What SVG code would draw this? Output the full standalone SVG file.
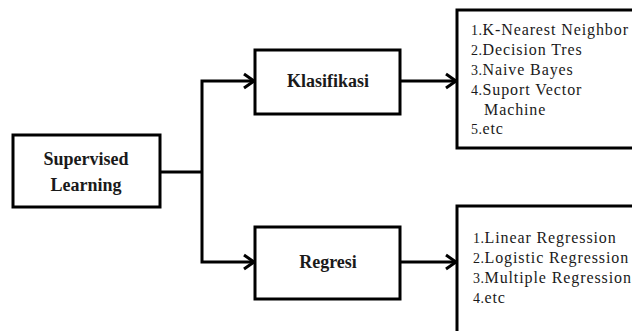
<svg xmlns="http://www.w3.org/2000/svg" width="632" height="331" viewBox="0 0 632 331">
<style>
.box{fill:#fff;stroke:#000;stroke-width:3}
.t{font-family:"Liberation Serif",serif;font-weight:bold;font-size:18px;fill:#1a1a1a;text-anchor:middle}
.l{font-family:"Liberation Serif",serif;font-size:16px;letter-spacing:0.9px;fill:#1a1a1a}
.n{font-size:14px;letter-spacing:0.5px}
.c{fill:none;stroke:#000;stroke-width:3}
</style>
<defs>
<marker id="ah" markerUnits="userSpaceOnUse" markerWidth="14" markerHeight="18" refX="11" refY="8" orient="auto" overflow="visible">
<path d="M1,1 L11,8 L1,15" fill="none" stroke="#000" stroke-width="3"/>
</marker>
</defs>
<rect width="632" height="331" fill="#fff"/>
<g id="connectors">
<path class="c" d="M160,172 H202"/>
<path class="c" d="M202,172 V81 H254" marker-end="url(#ah)"/>
<path class="c" d="M202,172 V262 H254" marker-end="url(#ah)"/>
<path class="c" d="M400,81 H456" marker-end="url(#ah)"/>
<path class="c" d="M400,262 H456" marker-end="url(#ah)"/>
</g>
<g id="supervised">
<rect class="box" x="13" y="135" width="147" height="72"/>
<text class="t" x="86" y="165">Supervised</text>
<text class="t" x="86" y="191">Learning</text>
</g>
<g id="klasifikasi">
<rect class="box" x="255" y="50" width="145" height="64"/>
<text class="t" x="328" y="87">Klasifikasi</text>
</g>
<g id="regresi">
<rect class="box" x="255" y="227" width="145" height="72"/>
<text class="t" x="328" y="268">Regresi</text>
</g>
<g id="list-klasifikasi">
<rect class="box" x="457" y="10" width="200" height="138"/>
<text class="l" x="471" y="35"><tspan class="n">1.</tspan>K-Nearest Neighbor</text>
<text class="l" x="471" y="55"><tspan class="n">2.</tspan>Decision Tres</text>
<text class="l" x="471" y="75"><tspan class="n">3.</tspan>Naive Bayes</text>
<text class="l" x="471" y="95"><tspan class="n">4.</tspan>Suport Vector</text>
<text class="l" x="484" y="115">Machine</text>
<text class="l" x="471" y="134"><tspan class="n">5.</tspan>etc</text>
</g>
<g id="list-regresi">
<rect class="box" x="457" y="206" width="200" height="140"/>
<text class="l" x="473" y="243"><tspan class="n">1.</tspan>Linear Regression</text>
<text class="l" x="473" y="263"><tspan class="n">2.</tspan>Logistic Regression</text>
<text class="l" x="473" y="283"><tspan class="n">3.</tspan>Multiple Regression</text>
<text class="l" x="473" y="303"><tspan class="n">4.</tspan>etc</text>
</g>
</svg>
